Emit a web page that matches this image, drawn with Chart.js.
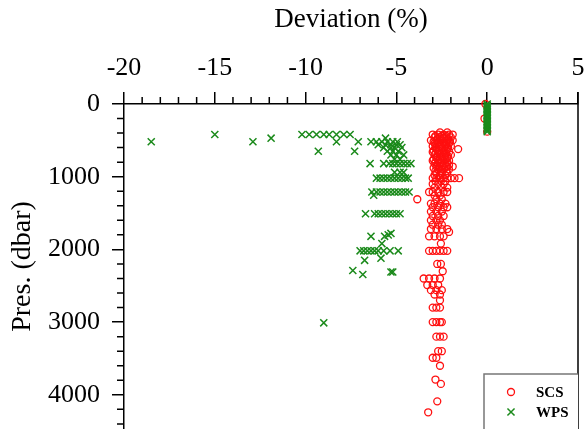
<!DOCTYPE html>
<html>
<head>
<meta charset="utf-8">
<script src="https://cdn.jsdelivr.net/npm/chart.js@4.4.1/dist/chart.umd.min.js"></script>
<style>
  html, body { margin: 0; padding: 0; background: #fff; }
</style>
</head>
<body>
<canvas id="chart" width="584" height="429"></canvas>
<script>
// ─── Data: pressure levels (dbar) and deviations (%) at each level ──────────
const scsLevels = [0, 200, 380, 390, 420, 440, 460, 480, 500, 520, 540, 560, 580, 600, 620, 640, 660, 680, 700,
  720, 740, 760, 780, 800, 820, 840, 860, 880, 900, 920, 950, 980,
  1020, 1060, 1100, 1150, 1210, 1260, 1310, 1370, 1420, 1480, 1540, 1600, 1660, 1720, 1760, 1820, 1920, 2020,
  2200, 2300, 2400, 2490, 2560, 2620, 2700, 2800, 3000, 3200, 3400, 3490, 3600, 3790, 3850, 4090, 4240];
const scsDeviation = [
  [-0.1], [-0.15], [0], [-2.6, -2.2],
  [-3.0, -2.7, -2.4, -2.1, -1.9], [-2.85, -2.5, -2.25], [-2.9, -2.6, -2.3, -2.0], [-2.75, -2.45, -2.15],
  [-3.1, -2.8, -2.5, -2.2, -1.9], [-2.95, -2.65, -2.35, -2.05],
  [-2.9, -2.7, -2.4, -2.1], [-2.8, -2.5, -2.25], [-3.0, -2.6, -2.3, -2.0], [-2.85, -2.45, -2.15],
  [-2.8, -2.5, -2.2, -1.6], [-2.95, -2.65, -2.35],
  [-3.0, -2.7, -2.4, -2.1], [-2.85, -2.55, -2.25], [-2.9, -2.6, -2.3, -2.0],
  [-2.75, -2.45, -2.15], [-2.8, -2.5, -2.2], [-2.95, -2.6, -2.3],
  [-3.0, -2.7, -2.4, -2.1], [-2.85, -2.55, -2.2], [-2.9, -2.6, -2.3], [-2.75, -2.4, -2.1],
  [-2.8, -2.5, -2.2, -1.9], [-2.95, -2.65, -2.35],
  [-2.7, -2.4, -2.1], [-2.85, -2.55, -2.25], [-2.8, -2.5, -2.2], [-2.9, -2.6, -2.3],
  [-3.0, -2.8, -2.6, -2.4, -2.2, -2.0, -1.8, -1.55], [-2.85, -2.55, -2.3], [-3.0, -2.7, -2.4], [-2.9, -2.5, -2.2],
  [-3.2, -3.0, -2.7, -2.4, -2.2], [-2.9, -2.6], [-3.85, -2.8, -2.5],
  [-3.1, -2.9, -2.6, -2.3], [-3.0, -2.7, -2.4, -2.2], [-3.1, -2.8, -2.5],
  [-3.0, -2.7, -2.4], [-3.1, -2.8, -2.6], [-3.0, -2.7, -2.5],
  [-3.1, -2.8, -2.5, -2.2], [-2.1], [-3.2, -2.9, -2.6, -2.4], [-2.55],
  [-3.2, -3.0, -2.8, -2.6, -2.4, -2.2],
  [-2.75, -2.55], [-2.45], [-3.5, -3.2, -2.9, -2.6], [-3.3, -3.0, -2.7], [-3.1, -2.8, -2.5],
  [-2.9, -2.6], [-2.6], [-3.0, -2.8, -2.6], [-3.0, -2.8, -2.6, -2.5], [-2.8, -2.6, -2.4],
  [-2.7, -2.5], [-3.0, -2.8], [-2.6], [-2.85], [-2.55], [-2.75], [-3.25]
];

const wpsLevels = [0, 20, 40, 60, 80, 100, 120, 140, 160, 180, 200, 220, 240, 260, 280, 300, 320, 340, 360, 380,
  420, 470, 520, 560, 600, 650, 700, 760, 820, 940, 1020, 1210, 1255, 1510,
  1780, 1800, 1820, 1920, 2020, 2120, 2150, 2290, 2310, 2345, 3010];
const wpsDeviation = [
  [0], [0], [0], [0], [0], [0], [0], [0], [0], [0], [0], [0], [0], [0], [0], [0], [0], [0], [0], [0],
  [-15.0, -10.2, -9.8, -9.4, -9.0, -8.7, -8.3, -7.9, -7.55],
  [-11.9, -5.6],
  [-18.5, -12.9, -8.3, -7.1, -6.4, -6.1, -5.8, -5.5, -5.2, -4.95],
  [-6.0, -5.6, -5.3, -5.0, -4.8],
  [-5.7, -5.3, -5.1, -4.7],
  [-9.3, -7.3, -5.5, -5.2, -4.9],
  [-5.3, -5.0, -4.6],
  [-5.1, -4.8],
  [-6.45, -5.7, -5.4, -5.2, -5.0, -4.8, -4.6, -4.4, -4.2],
  [-5.1, -4.8, -4.6],
  [-6.1, -5.9, -5.7, -5.5, -5.3, -5.1, -4.9, -4.7, -4.5, -4.35],
  [-6.35, -6.1, -5.9, -5.7, -5.5, -5.3, -5.1, -4.9, -4.7, -4.5, -4.3],
  [-6.25],
  [-6.7, -6.2, -6.0, -5.8, -5.6, -5.4, -5.2, -5.0, -4.8],
  [-5.3], [-5.45], [-6.4, -5.65], [-5.8],
  [-7.0, -6.8, -6.6, -6.4, -6.2, -6.0, -5.7, -5.35, -4.9],
  [-5.85], [-6.75], [-7.4], [-5.3, -5.2], [-6.85], [-9.0]
];

const xTicks = { min: -20, max: 5, major: 5, minor: 1 };
const yTicks = { min: 0, max: 4470, major: 1000, minor: 200, labels: [0, 1000, 2000, 3000, 4000] };

const FONT = '"Liberation Serif", "Times New Roman", serif';
const RED = '#ff1010';
const GREEN = '#1b8a1b';

function toPoints(levels, devs) {
  return levels.flatMap((p, i) => devs[i].map(d => ({ x: d, y: p })));
}

// ─── Minor ticks, right frame line, boxed legend ───────────────────────────
const extras = {
  id: 'extras',
  afterDatasetsDraw(chart) {
    const { ctx, chartArea: a, scales } = chart;
    ctx.save();
    ctx.strokeStyle = '#000';
    ctx.lineWidth = 1.5;
    ctx.beginPath();
    for (let v = xTicks.min; v <= xTicks.max; v += xTicks.minor) {
      if (v % xTicks.major === 0) continue;
      const px = scales.x.getPixelForValue(v);
      ctx.moveTo(px, a.top);
      ctx.lineTo(px, a.top - 7);
    }
    for (let v = yTicks.min; v <= yTicks.max; v += yTicks.minor) {
      if (v % yTicks.major === 0) continue;
      const py = scales.y.getPixelForValue(v);
      ctx.moveTo(a.left, py);
      ctx.lineTo(a.left - 7, py);
    }
    // right frame
    ctx.moveTo(a.right, a.top - 12);
    ctx.lineTo(a.right, a.bottom);
    ctx.stroke();

    // legend box
    const w = 94, left = a.right - w, top = a.bottom - 55;
    ctx.fillStyle = '#fff';
    ctx.fillRect(left, top, w, a.bottom - top + 2);
    ctx.strokeStyle = '#777';
    ctx.lineWidth = 1.5;
    ctx.beginPath();
    ctx.moveTo(left, a.bottom + 2);
    ctx.lineTo(left, top);
    ctx.lineTo(a.right, top);
    ctx.stroke();

    ctx.font = 'bold 15px ' + FONT;
    ctx.textBaseline = 'middle';
    chart.data.datasets.forEach((ds, i) => {
      const y = top + 18 + i * 20;
      const mx = left + 27;
      ctx.strokeStyle = ds.borderColor;
      ctx.lineWidth = ds.borderWidth;
      ctx.beginPath();
      if (ds.pointStyle === 'circle') {
        ctx.arc(mx, y, ds.pointRadius, 0, Math.PI * 2);
      } else {
        const o = ds.pointRadius * Math.SQRT1_2;
        ctx.moveTo(mx - o, y - o); ctx.lineTo(mx + o, y + o);
        ctx.moveTo(mx - o, y + o); ctx.lineTo(mx + o, y - o);
      }
      ctx.stroke();
      ctx.fillStyle = '#000';
      ctx.fillText(ds.label, left + 52, y + 1);
    });
    ctx.restore();
  }
};

const axisFont = { family: FONT, size: 26 };

new Chart(document.getElementById('chart').getContext('2d'), {
  type: 'scatter',
  data: {
    datasets: [
      {
        label: 'SCS',
        data: toPoints(scsLevels, scsDeviation),
        pointStyle: 'circle',
        pointRadius: 3.5,
        borderColor: RED,
        backgroundColor: 'rgba(0,0,0,0)',
        borderWidth: 1.3,
        order: 2,
        clip: false,
      },
      {
        label: 'WPS',
        data: toPoints(wpsLevels, wpsDeviation),
        pointStyle: 'crossRot',
        pointRadius: 5,
        borderColor: GREEN,
        backgroundColor: GREEN,
        borderWidth: 1.5,
        order: 1,
        clip: false,
      },
    ],
  },
  options: {
    responsive: false,
    animation: false,
    layout: { autoPadding: false, padding: { top: 0, left: 0, right: 0, bottom: 0 } },
    plugins: { legend: { display: false }, tooltip: { enabled: false } },
    scales: {
      x: {
        type: 'linear',
        position: 'top',
        min: xTicks.min,
        max: xTicks.max,
        ticks: { stepSize: xTicks.major, color: '#000', font: axisFont, padding: 8, callback: v => String(v) },
        grid: { drawOnChartArea: false, drawTicks: true, tickLength: 12, color: '#000', lineWidth: 1.5 },
        border: { display: true, color: '#000', width: 1.5 },
        title: { display: true, text: 'Deviation (%)', color: '#000', font: { family: FONT, size: 27 }, padding: { top: 4, bottom: 0 } },
        afterFit: s => { s.height = 104; s.paddingLeft = 0; s.paddingRight = 6; },
      },
      y: {
        type: 'linear',
        reverse: true,
        min: yTicks.min,
        max: yTicks.max,
        afterBuildTicks: s => { s.ticks = yTicks.labels.map(v => ({ value: v })); },
        ticks: { color: '#000', font: axisFont, padding: 12, callback: v => String(v) },
        grid: { drawOnChartArea: false, drawTicks: true, tickLength: 12, color: '#000', lineWidth: 1.5 },
        border: { display: true, color: '#000', width: 1.5 },
        title: { display: true, text: 'Pres. (dbar)', color: '#000', font: { family: FONT, size: 28 }, padding: { top: 6, bottom: 0 } },
        afterFit: s => { s.width = 124; s.paddingTop = 0; s.paddingBottom = 0; },
      },
    },
  },
  plugins: [extras],
});
</script>
</body>
</html>
